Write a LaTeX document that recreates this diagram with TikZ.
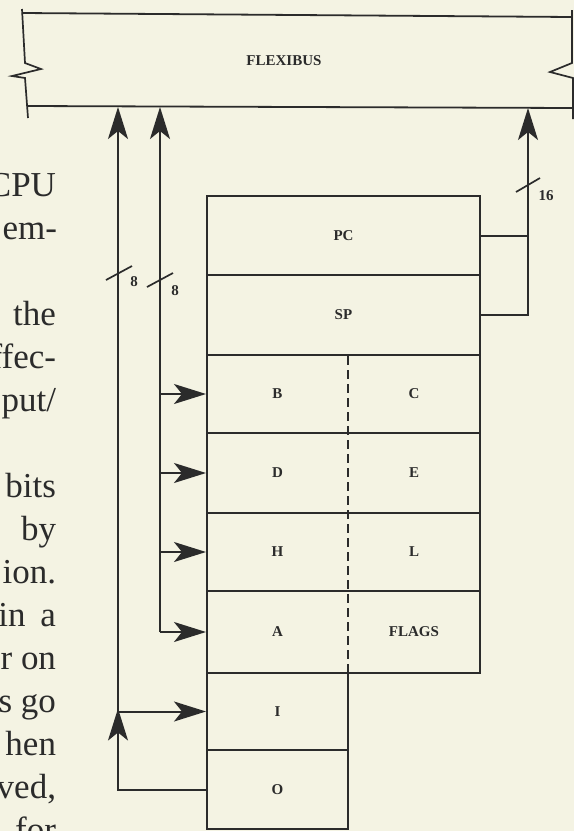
\documentclass[tikz,border=0pt]{standalone}
\usepackage{fontspec}
\setmainfont{Liberation Serif}
\usetikzlibrary{arrows.meta}
\definecolor{paper}{HTML}{F4F3E3}
\definecolor{ink}{HTML}{2B2B2B}
\begin{document}
\begin{tikzpicture}[x=1pt,y=-1pt,
  line width=2pt, draw=ink,
  reg/.style={draw=ink, line width=2pt, inner sep=0pt, minimum width=273pt},
  half/.style={draw=ink, line width=2pt, inner sep=0pt, minimum width=141pt},
  lbl/.style={font=\fontsize{15}{15}\selectfont\bfseries, text=ink, inner sep=0pt},
  body/.style={font=\fontsize{35}{35}\selectfont, text=ink, anchor=base east, inner sep=0pt},
  arr/.style={-{Stealth[length=32pt,width=20pt,inset=8pt]}},
  slash/.style={line width=1.7pt}]
\useasboundingbox (0,0) rectangle (574,831);
\fill[paper] (0,0) rectangle (574,831);

% ---- page text at the left (cut by the page edge)
\node[body] (t1)  at (57,196) {CPU};
\node[body] (t2)  at (58,239) {em-};
\node[body] (t3)  at (57,325) {the};
\node[body] (t4)  at (57,368) {ffec-};
\node[body] (t5)  at (57,411) {put/};
\node[body] (t6)  at (57,497) {bits};
\node[body] (t7)  at (57,540) {by};
\node[body] (t8)  at (57,583) {ion.};
\node[body] (t9)  at (57,626) {in\hspace{6pt} a};
\node[body] (t10) at (57,669) {r on};
\node[body] (t11) at (57,712) {s go};
\node[body] (t12) at (57,755) {hen};
\node[body] (t13) at (57,798) {ved,};
\node[body] (t14) at (57,841) {for};

% ---- FLEXIBUS
\draw[line width=1.8pt] (22,13) -- (572,17);
\draw[line width=1.8pt] (28,106) -- (573,108);
\draw[line width=1.7pt] (22,9) -- (25,63) -- (41,69) -- (12,76) -- (25,78) -- (28,118);
\draw[line width=1.7pt] (572,10) -- (572,63) -- (550,72) -- (573,78) -- (573,119);
\node[lbl] (bus) at (284,61) {FLEXIBUS};
\coordinate (b1) at (118,107);
\coordinate (b2) at (160,107);
\coordinate (b3) at (528,108);

% ---- registers
\node[reg, minimum height=79pt] (PC) at (343.5,235.5) {};
\node[reg, minimum height=80pt] (SP) at (343.5,315) {};
\node[reg, minimum height=78pt] (rB) at (343.5,394) {};
\node[reg, minimum height=80pt] (rD) at (343.5,473) {};
\node[reg, minimum height=78pt] (rH) at (343.5,552) {};
\node[reg, minimum height=82pt] (rA) at (343.5,632) {};
\node[half, minimum height=77pt] (I) at (277.5,711.5) {};
\node[half, minimum height=79pt] (O) at (277.5,789.5) {};
\draw[line width=1.7pt, dash pattern=on 9pt off 5pt] (348,356) -- (348,672);

\node[lbl] (lPC) at (PC) {PC};
\node[lbl] (lSP) at (SP) {SP};
\node[lbl] (lB) at (277.5,394) {B};
\node[lbl] (lC) at (414,394) {C};
\node[lbl] (lD) at (277.5,473) {D};
\node[lbl] (lE) at (414,473) {E};
\node[lbl] (lH) at (277.5,552) {H};
\node[lbl] (lL) at (414,552) {L};
\node[lbl] (lA) at (277.5,632) {A};
\node[lbl] (lF) at (414,632) {FLAGS};
\node[lbl] (lI) at (I) {I};
\node[lbl] (lO) at (O) {O};

% ---- left buses
\coordinate (jI) at (b1 |- I.west);
\draw (O.west) -| ([yshift=3pt]jI);
\draw[arr] (O.west -| b1) -- ([yshift=3pt]jI);
\draw[arr] (jI) -- (b1);
\draw[arr] (jI) -- (I.west);

\draw[arr] (b2 |- rA.west) -- (b2);
\draw[arr] (b2 |- rA.west) -- (rA.west);
\draw[arr] (b2 |- rH.west) -- (rH.west);
\draw[arr] (b2 |- rD.west) -- (rD.west);
\draw[arr] (b2 |- rB.west) -- (rB.west);

\draw[slash] (106,280) -- (132,266);
\node[lbl] (n8a) at (134,282) {8};
\draw[slash] (147,287) -- (173,273);
\node[lbl] (n8b) at (175,291) {8};

% ---- PC / SP to FLEXIBUS
\draw (PC.east) -- (PC.east -| b3);
\draw[arr] (SP.east) -| (b3);
\draw[slash] (516,192) -- (540,178);
\node[lbl] (n16) at (546,196) {16};
\end{tikzpicture}
\end{document}
